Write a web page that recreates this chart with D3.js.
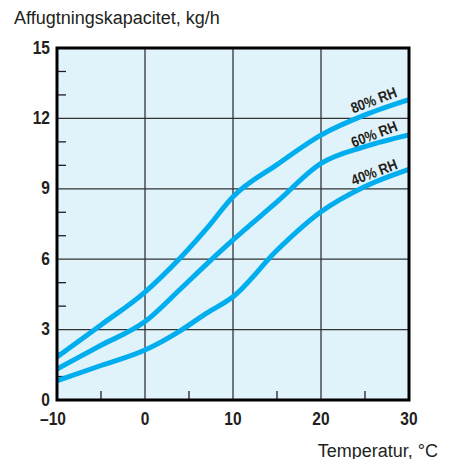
<!DOCTYPE html>
<html>
<head>
<meta charset="utf-8">
<script src="https://cdn.jsdelivr.net/npm/d3@7"></script>
<style>
  html, body { margin: 0; padding: 0; background: #fff; }
  svg { display: block; }
  .tick-label { font-family: "Liberation Sans", Arial, sans-serif; font-weight: bold; font-size: 18.5px; fill: #231f20; }
  .title { font-family: "Liberation Sans", Arial, sans-serif; font-size: 18px; fill: #231f20; }
  .curve-label { font-family: "Liberation Sans", Arial, sans-serif; font-weight: bold; font-size: 15px; fill: #231f20; }
</style>
</head>
<body>
<svg id="chart" width="450" height="459"></svg>
<script>
// Affugtningskapacitet vs. temperatur for tre RH-kurver

const temps = [-10, -5, 0, 4, 7, 10, 15, 20, 25, 30];
const rh80 = [1.83, 3.2, 4.6, 6.05, 7.3, 8.66, 10.03, 11.29, 12.15, 12.8];
const rh60 = [1.32, 2.33, 3.34, 4.72, 5.79, 6.82, 8.44, 10.08, 10.8, 11.3];
const rh40 = [0.82, 1.47, 2.13, 2.95, 3.7, 4.4, 6.38, 8.02, 9.1, 9.83];
const seriesNames = ['80% RH', '60% RH', '40% RH'];

const xMajor = [-10, 0, 10, 20, 30];
const xMinor = [-5, 5, 15, 25];
const yMajor = [0, 3, 6, 9, 12, 15];
const yMinor = [1, 2, 4, 5, 7, 8, 10, 11, 13, 14];

const margin = { left: 57, right: 41, top: 48, bottom: 59 };
const svg = d3.select('#chart');
const width = 450 - margin.left - margin.right;
const height = 459 - margin.top - margin.bottom;

const x = d3.scaleLinear().domain([-10, 30]).range([0, width]);
const y = d3.scaleLinear().domain([0, 15]).range([height, 0]);

const g = svg.append('g').attr('transform', `translate(${margin.left},${margin.top})`);

g.append('rect')
  .attr('width', width)
  .attr('height', height)
  .attr('fill', '#e0f3fb');

// gridlines
g.selectAll('.vgrid')
  .data(xMajor.slice(1, -1))
  .join('line')
  .attr('x1', d => x(d)).attr('x2', d => x(d))
  .attr('y1', 0).attr('y2', height)
  .attr('stroke', '#333').attr('stroke-width', 1.3);

g.selectAll('.hgrid')
  .data(yMajor.slice(1, -1))
  .join('line')
  .attr('y1', d => y(d)).attr('y2', d => y(d))
  .attr('x1', 0).attr('x2', width)
  .attr('stroke', '#333').attr('stroke-width', 1.3);

// minor ticks
g.selectAll('.yminor')
  .data(yMinor)
  .join('line')
  .attr('y1', d => y(d)).attr('y2', d => y(d))
  .attr('x1', 0).attr('x2', 9)
  .attr('stroke', '#231f20').attr('stroke-width', 1.3);

g.selectAll('.xminor')
  .data(xMinor)
  .join('line')
  .attr('x1', d => x(d)).attr('x2', d => x(d))
  .attr('y1', height).attr('y2', height - 9)
  .attr('stroke', '#231f20').attr('stroke-width', 1.3);

// curves
const line = d3.line()
  .x((d, i) => x(temps[i]))
  .y(d => y(d))
  .curve(d3.curveMonotoneX);

g.selectAll('.curve')
  .data([rh80, rh60, rh40])
  .join('path')
  .attr('d', line)
  .attr('fill', 'none')
  .attr('stroke', '#00aeef')
  .attr('stroke-width', 5)
  .attr('stroke-linecap', 'butt');

// frame
g.append('rect')
  .attr('width', width)
  .attr('height', height)
  .attr('fill', 'none')
  .attr('stroke', '#000')
  .attr('stroke-width', 3);

// tick labels (condensed look via horizontal squeeze)
g.selectAll('.ylab')
  .data(yMajor)
  .join('text')
  .attr('class', 'tick-label')
  .attr('text-anchor', 'end')
  .attr('transform', d => `translate(-7,${y(d) + 5.5}) scale(0.84,1)`)
  .text(d => d);

g.selectAll('.xlab')
  .data(xMajor)
  .join('text')
  .attr('class', 'tick-label')
  .attr('text-anchor', 'middle')
  .attr('transform', d => `translate(${x(d) + (d < 0 ? -4 : 0)},${height + 25}) scale(0.84,1)`)
  .text(d => (d < 0 ? '\u2013' + Math.abs(d) : d));

// curve labels
const labelPos = [[26.2, 12.57], [26.25, 11.12], [26.25, 9.5]];
g.selectAll('.curve-label')
  .data(seriesNames)
  .join('text')
  .attr('class', 'curve-label')
  .attr('text-anchor', 'middle')
  .attr('transform', (d, i) => `translate(${x(labelPos[i][0])},${y(labelPos[i][1])}) rotate(-21) scale(0.86,1)`)
  .text(d => d);

// axis titles
svg.append('text')
  .attr('class', 'title')
  .attr('x', 14)
  .attr('y', 23.5)
  .text('Affugtningskapacitet, kg/h');

svg.append('text')
  .attr('class', 'title')
  .attr('x', 438)
  .attr('y', 456.5)
  .attr('text-anchor', 'end')
  .text('Temperatur, °C');
</script>
</body>
</html>
